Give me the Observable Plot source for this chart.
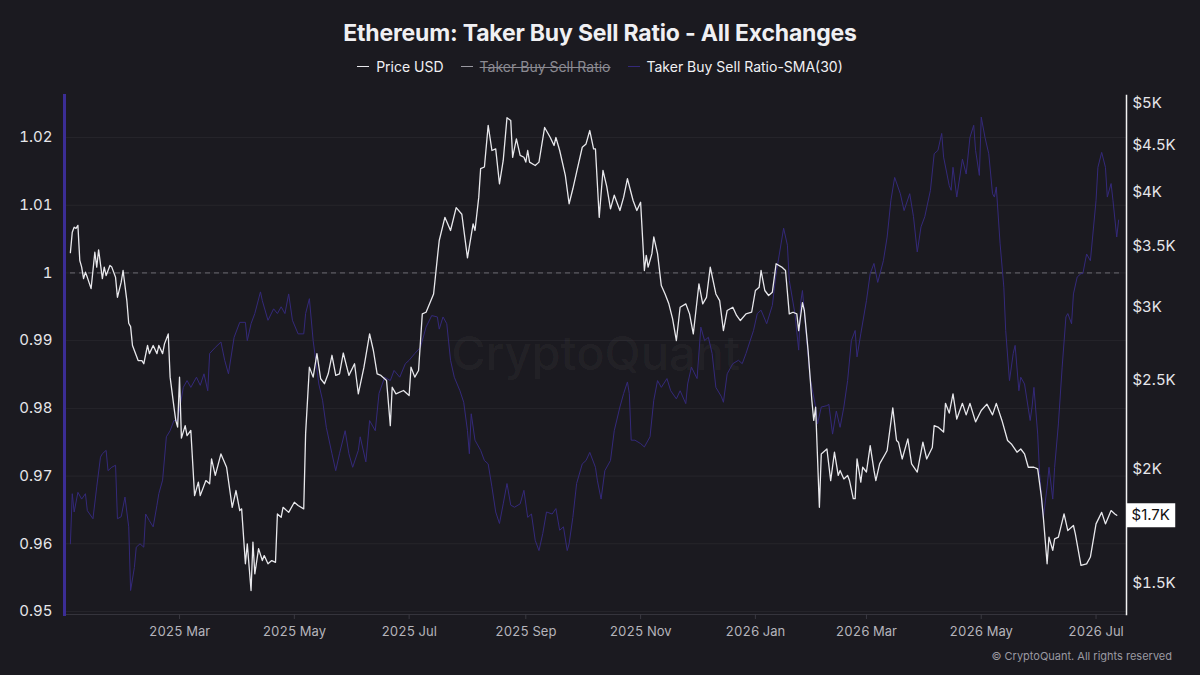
<!DOCTYPE html>
<html>
<head>
<meta charset="utf-8">
<script src="https://cdn.jsdelivr.net/npm/d3@7"></script>
<script src="https://cdn.jsdelivr.net/npm/@observablehq/plot@0.6"></script>
<style>
  html, body { margin: 0; padding: 0; background: #1b1a20; }
  body { width: 1200px; height: 675px; overflow: hidden; font-family: Inter, "Noto Sans", sans-serif; color: #f0f0f3; }
  #title { height: 47px; display: flex; align-items: flex-end; justify-content: center; font-size: 23px; font-weight: 700; letter-spacing: -0.2px; }
  #legend { height: 41px; display: flex; align-items: center; justify-content: center; gap: 17px; font-size: 14px; padding-bottom: 3px; box-sizing: border-box; }
  .item { display: flex; align-items: center; gap: 7px; }
  .sw { width: 12px; height: 0; border-top: 1.5px solid; }
  .off { color: #8b8a92; text-decoration: line-through; }
  #chart { height: 560px; }
  #footer { height: 27px; text-align: right; padding-right: 28px; font-size: 11px; color: #9a99a1; line-height: 16px; }
</style>
</head>
<body>
<div id="title"></div>
<div id="legend"></div>
<div id="chart"></div>
<div id="footer"></div>
<script>
// ---- Data ----
const titleText = "Ethereum: Taker Buy Sell Ratio - All Exchanges";
const seriesNames = ["Price USD", "Taker Buy Sell Ratio", "Taker Buy Sell Ratio-SMA(30)"];
const footerText = "© CryptoQuant. All rights reserved";
const watermark = "CryptoQuant";

const ratioTicks = [0.95, 0.96, 0.97, 0.98, 0.99, 1, 1.01, 1.02];
const priceTicks = [1500, 2000, 2500, 3000, 3500, 4000, 4500, 5000];
const xTicks = ["2025-03-01","2025-05-01","2025-07-01","2025-09-01","2025-11-01","2026-01-01","2026-03-01","2026-05-01","2026-07-01"];
const referenceRatio = 1;

// Price USD (right log axis)
const priceSeries = [
["2025-01-02",3440],["2025-01-03",3620],["2025-01-04",3666],["2025-01-05",3655],["2025-01-06",3683],["2025-01-07",3372],["2025-01-08",3317],["2025-01-09",3223],["2025-01-10",3275],["2025-01-11",3233],["2025-01-13",3143],["2025-01-15",3443],["2025-01-16",3317],["2025-01-17",3464],["2025-01-19",3223],["2025-01-20",3317],["2025-01-21",3247],["2025-01-23",3331],["2025-01-24",3317],["2025-01-26",3233],["2025-01-27",3075],["2025-01-29",3194],["2025-01-30",3289],
["2025-02-01",3050],["2025-02-02",2881],["2025-02-03",2857],["2025-02-04",2725],["2025-02-07",2624],["2025-02-09",2624],["2025-02-10",2603],["2025-02-12",2725],["2025-02-13",2670],["2025-02-15",2725],["2025-02-17",2670],["2025-02-18",2725],["2025-02-20",2670],["2025-02-21",2736],["2025-02-23",2805],["2025-02-24",2517],["2025-02-26",2338],["2025-02-27",2258],["2025-02-28",2221],
["2025-03-01",2517],["2025-03-02",2160],["2025-03-04",2229],["2025-03-05",2174],["2025-03-07",2202],["2025-03-09",1870],["2025-03-11",1934],["2025-03-12",1870],["2025-03-15",1942],["2025-03-17",1926],["2025-03-18",2050],["2025-03-20",1967],["2025-03-23",2076],["2025-03-26",2008],["2025-03-29",1816],["2025-03-31",1894],
["2025-04-02",1801],["2025-04-03",1809],["2025-04-05",1576],["2025-04-06",1657],["2025-04-08",1474],["2025-04-09",1664],["2025-04-10",1537],["2025-04-12",1637],["2025-04-14",1589],["2025-04-15",1609],["2025-04-17",1576],["2025-04-19",1589],["2025-04-21",1582],["2025-04-22",1786],["2025-04-24",1771],["2025-04-25",1816],["2025-04-28",1793],
["2025-05-01",1839],["2025-05-03",1824],["2025-05-06",1809],["2025-05-07",2186],["2025-05-09",2581],["2025-05-11",2517],["2025-05-13",2670],["2025-05-15",2507],["2025-05-17",2476],["2025-05-19",2538],["2025-05-21",2659],["2025-05-23",2528],["2025-05-25",2538],["2025-05-27",2674],["2025-05-30",2528],
["2025-06-02",2603],["2025-06-04",2414],["2025-06-07",2581],["2025-06-10",2805],["2025-06-12",2691],["2025-06-14",2538],["2025-06-16",2528],["2025-06-19",2496],["2025-06-21",2229],["2025-06-22",2454],["2025-06-24",2414],["2025-06-28",2434],
["2025-07-01",2404],["2025-07-02",2581],["2025-07-04",2517],["2025-07-06",2559],["2025-07-08",2950],["2025-07-10",2962],["2025-07-14",3101],["2025-07-16",3395],["2025-07-17",3546],["2025-07-20",3758],["2025-07-23",3636],["2025-07-26",3851],["2025-07-29",3787],
["2025-08-01",3395],["2025-08-04",3697],["2025-08-05",3636],["2025-08-07",3953],["2025-08-08",4246],["2025-08-10",4264],["2025-08-12",4733],["2025-08-14",4444],["2025-08-16",4462],["2025-08-18",4088],["2025-08-20",4334],["2025-08-22",4824],["2025-08-24",4791],["2025-08-25",4369],["2025-08-27",4576],["2025-08-29",4390],["2025-08-31",4369],
["2025-09-01",4316],["2025-09-02",4444],["2025-09-03",4316],["2025-09-06",4280],["2025-09-08",4316],["2025-09-11",4708],["2025-09-14",4591],["2025-09-16",4500],["2025-09-17",4591],["2025-09-19",4444],["2025-09-22",4175],["2025-09-24",3888],["2025-09-26",4037],["2025-09-28",4210],
["2025-10-01",4480],["2025-10-03",4518],["2025-10-05",4672],["2025-10-07",4462],["2025-10-08",4462],["2025-10-10",3758],["2025-10-12",4227],["2025-10-14",4061],["2025-10-16",3839],["2025-10-18",3973],["2025-10-21",3823],["2025-10-23",3953],["2025-10-25",4140],["2025-10-28",3920],["2025-10-30",3823],
["2025-11-01",3903],["2025-11-03",3289],["2025-11-04",3416],["2025-11-05",3317],["2025-11-07",3431],["2025-11-08",3577],["2025-11-10",3431],["2025-11-12",3167],["2025-11-14",3101],["2025-11-16",3025],["2025-11-18",2913],["2025-11-20",2759],["2025-11-22",2999],["2025-11-25",3025],["2025-11-27",2950],["2025-11-29",2805],
["2025-12-02",3181],["2025-12-04",3025],["2025-12-06",3075],["2025-12-08",3317],["2025-12-11",3101],["2025-12-13",3050],["2025-12-15",2829],["2025-12-17",2975],["2025-12-20",2999],["2025-12-22",2938],["2025-12-24",2901],["2025-12-27",2950],["2025-12-30",2962],
["2026-01-01",3128],["2026-01-03",3154],["2026-01-04",3289],["2026-01-06",3128],["2026-01-08",3089],["2026-01-10",3115],["2026-01-12",3345],["2026-01-15",3317],["2026-01-17",3289],["2026-01-19",2950],["2026-01-21",2962],["2026-01-23",2950],["2026-01-24",2829],["2026-01-26",3035],["2026-01-27",2975],["2026-01-29",2691],["2026-01-31",2374],
["2026-02-01",2258],["2026-02-02",2334],["2026-02-04",1816],["2026-02-05",2076],["2026-02-08",2102],["2026-02-10",1942],["2026-02-12",2085],["2026-02-14",1967],["2026-02-15",1992],["2026-02-17",1950],["2026-02-19",1967],["2026-02-20",1942],["2026-02-22",1856],["2026-02-23",1856],["2026-02-24",2050],["2026-02-26",1934],["2026-02-27",2008],
["2026-03-01",1984],["2026-03-03",2120],["2026-03-05",1992],["2026-03-06",1942],["2026-03-08",2025],["2026-03-11",2076],["2026-03-12",2094],["2026-03-15",2330],["2026-03-17",2147],["2026-03-18",2138],["2026-03-20",2050],["2026-03-23",2156],["2026-03-25",2025],["2026-03-28",1984],["2026-03-31",2138],
["2026-04-02",2050],["2026-04-05",2110],["2026-04-06",2229],["2026-04-08",2221],["2026-04-11",2193],["2026-04-12",2357],["2026-04-14",2300],["2026-04-16",2414],["2026-04-18",2266],["2026-04-21",2357],["2026-04-23",2290],["2026-04-25",2357],["2026-04-28",2250],
["2026-05-01",2315],["2026-05-04",2352],["2026-05-07",2290],["2026-05-09",2357],["2026-05-12",2258],["2026-05-15",2147],["2026-05-17",2129],["2026-05-20",2085],["2026-05-22",2102],["2026-05-24",2076],["2026-05-26",2008],["2026-05-29",2008],["2026-05-31",2000],
["2026-06-02",1861],["2026-06-03",1771],["2026-06-05",1576],["2026-06-06",1685],["2026-06-08",1630],["2026-06-09",1678],["2026-06-11",1685],["2026-06-14",1786],["2026-06-16",1713],["2026-06-19",1735],["2026-06-20",1699],["2026-06-23",1570],["2026-06-26",1576],["2026-06-28",1603],
["2026-07-01",1742],["2026-07-04",1793],["2026-07-06",1742],["2026-07-09",1801],["2026-07-11",1786],["2026-07-12",1780]
];

// Taker Buy Sell Ratio - SMA(30) (left axis)
const smaSeries = [
["2025-01-02",0.9600],["2025-01-03",0.9674],["2025-01-04",0.9647],["2025-01-06",0.9676],["2025-01-08",0.9666],["2025-01-10",0.9674],["2025-01-11",0.9649],["2025-01-14",0.9637],["2025-01-16",0.9684],["2025-01-18",0.9728],["2025-01-19",0.9733],["2025-01-21",0.9738],["2025-01-22",0.9708],["2025-01-24",0.9713],["2025-01-26",0.9716],["2025-01-27",0.9637],["2025-01-29",0.9640],["2025-01-31",0.9669],
["2025-02-02",0.9625],["2025-02-03",0.9531],["2025-02-05",0.9565],["2025-02-06",0.9595],["2025-02-08",0.9600],["2025-02-10",0.9595],["2025-02-11",0.9644],["2025-02-13",0.9634],["2025-02-15",0.9625],["2025-02-17",0.9657],["2025-02-18",0.9674],["2025-02-20",0.9694],["2025-02-22",0.9758],["2025-02-24",0.9767],["2025-02-26",0.9782],["2025-02-28",0.9782],
["2025-03-03",0.9831],["2025-03-05",0.9841],["2025-03-07",0.9831],["2025-03-10",0.9846],["2025-03-12",0.9834],["2025-03-14",0.9851],["2025-03-16",0.9826],["2025-03-17",0.9881],["2025-03-20",0.9890],["2025-03-23",0.9898],["2025-03-25",0.9871],["2025-03-27",0.9851],["2025-03-30",0.9905],
["2025-04-02",0.9927],["2025-04-05",0.9927],["2025-04-06",0.9900],["2025-04-08",0.9925],["2025-04-10",0.9940],["2025-04-13",0.9972],["2025-04-14",0.9959],["2025-04-17",0.9930],["2025-04-20",0.9947],["2025-04-22",0.9940],["2025-04-24",0.9950],["2025-04-26",0.9940],["2025-04-28",0.9969],["2025-04-30",0.9930],
["2025-05-03",0.9910],["2025-05-06",0.9910],["2025-05-07",0.9940],["2025-05-09",0.9962],["2025-05-11",0.9900],["2025-05-14",0.9836],["2025-05-16",0.9812],["2025-05-18",0.9772],["2025-05-21",0.9733],["2025-05-23",0.9708],["2025-05-25",0.9733],["2025-05-28",0.9767],["2025-05-30",0.9733],
["2025-06-01",0.9713],["2025-06-04",0.9738],["2025-06-05",0.9758],["2025-06-08",0.9721],["2025-06-10",0.9782],["2025-06-13",0.9767],["2025-06-15",0.9822],["2025-06-18",0.9846],["2025-06-21",0.9841],["2025-06-23",0.9856],["2025-06-26",0.9846],["2025-06-29",0.9866],
["2025-07-01",0.9871],["2025-07-04",0.9881],["2025-07-07",0.9890],["2025-07-10",0.9920],["2025-07-13",0.9937],["2025-07-16",0.9935],["2025-07-17",0.9917],["2025-07-19",0.9935],["2025-07-21",0.9925],["2025-07-23",0.9871],["2025-07-25",0.9846],["2025-07-28",0.9826],["2025-07-30",0.9809],
["2025-08-01",0.9767],["2025-08-02",0.9733],["2025-08-03",0.9792],["2025-08-05",0.9753],["2025-08-08",0.9738],["2025-08-10",0.9723],["2025-08-12",0.9718],["2025-08-14",0.9684],["2025-08-16",0.9647],["2025-08-18",0.9630],["2025-08-20",0.9659],["2025-08-22",0.9689],["2025-08-24",0.9657],["2025-08-26",0.9654],["2025-08-29",0.9659],["2025-08-31",0.9679],
["2025-09-02",0.9639],["2025-09-04",0.9644],["2025-09-06",0.9605],["2025-09-08",0.9590],["2025-09-10",0.9615],["2025-09-12",0.9647],["2025-09-15",0.9644],["2025-09-17",0.9652],["2025-09-19",0.9620],["2025-09-21",0.9625],["2025-09-23",0.9590],["2025-09-24",0.9600],["2025-09-26",0.9639],["2025-09-28",0.9689],
["2025-10-01",0.9718],["2025-10-03",0.9723],["2025-10-05",0.9735],["2025-10-08",0.9713],["2025-10-09",0.9694],["2025-10-11",0.9666],["2025-10-13",0.9708],["2025-10-16",0.9723],["2025-10-18",0.9767],["2025-10-21",0.9802],["2025-10-23",0.9822],["2025-10-25",0.9839],["2025-10-26",0.9822],["2025-10-27",0.9753],["2025-10-29",0.9753],
["2025-11-01",0.9748],["2025-11-03",0.9743],["2025-11-06",0.9758],["2025-11-08",0.9812],["2025-11-10",0.9841],["2025-11-12",0.9831],["2025-11-15",0.9844],["2025-11-17",0.9826],["2025-11-20",0.9814],["2025-11-22",0.9826],["2025-11-25",0.9807],["2025-11-26",0.9836],["2025-11-28",0.9861],
["2025-12-01",0.9844],["2025-12-03",0.9920],["2025-12-05",0.9900],["2025-12-07",0.9905],["2025-12-09",0.9881],["2025-12-11",0.9831],["2025-12-14",0.9817],["2025-12-15",0.9809],["2025-12-17",0.9851],["2025-12-20",0.9866],["2025-12-23",0.9871],["2025-12-25",0.9866],["2025-12-27",0.9881],["2025-12-31",0.9915],
["2026-01-02",0.9940],["2026-01-04",0.9945],["2026-01-07",0.9925],["2026-01-10",0.9952],["2026-01-12",0.9999],["2026-01-16",1.0066],["2026-01-18",1.0041],["2026-01-19",0.9989],["2026-01-22",0.9940],["2026-01-24",0.9886],["2026-01-25",0.9955],["2026-01-26",0.9974],["2026-01-28",0.9910],["2026-01-30",0.9846],
["2026-02-02",0.9802],["2026-02-03",0.9777],["2026-02-05",0.9802],["2026-02-08",0.9804],["2026-02-09",0.9806],["2026-02-11",0.9762],["2026-02-13",0.9796],["2026-02-15",0.9772],["2026-02-17",0.9802],["2026-02-19",0.9841],["2026-02-21",0.9900],["2026-02-23",0.9915],["2026-02-24",0.9876],["2026-02-26",0.9910],
["2026-03-01",0.9959],["2026-03-03",0.9999],["2026-03-05",1.0014],["2026-03-07",0.9986],["2026-03-10",1.0018],["2026-03-12",1.0053],["2026-03-14",1.0107],["2026-03-16",1.0141],["2026-03-19",1.0117],["2026-03-21",1.0092],["2026-03-24",1.0117],["2026-03-26",1.0083],["2026-03-28",1.0031],["2026-03-30",1.0068],
["2026-04-01",1.0083],["2026-04-04",1.0122],["2026-04-06",1.0176],["2026-04-08",1.0181],["2026-04-10",1.0206],["2026-04-11",1.0171],["2026-04-14",1.0129],["2026-04-15",1.0122],["2026-04-16",1.0156],["2026-04-18",1.0112],["2026-04-21",1.0168],["2026-04-23",1.0146],["2026-04-25",1.0200],["2026-04-27",1.0218],["2026-04-28",1.0181],["2026-04-30",1.0144],
["2026-05-01",1.0230],["2026-05-03",1.0200],["2026-05-05",1.0176],["2026-05-07",1.0117],["2026-05-08",1.0112],["2026-05-09",1.0127],["2026-05-11",1.0044],["2026-05-13",0.9979],["2026-05-14",0.9915],["2026-05-16",0.9841],["2026-05-18",0.9881],["2026-05-19",0.9893],["2026-05-21",0.9826],["2026-05-22",0.9846],["2026-05-24",0.9836],["2026-05-27",0.9782],["2026-05-28",0.9802],["2026-05-29",0.9831],["2026-05-31",0.9762],
["2026-06-01",0.9704],["2026-06-03",0.9639],["2026-06-05",0.9684],["2026-06-06",0.9713],["2026-06-08",0.9666],["2026-06-09",0.9713],["2026-06-11",0.9777],["2026-06-13",0.9861],["2026-06-15",0.9935],["2026-06-16",0.9940],["2026-06-18",0.9925],["2026-06-19",0.9969],["2026-06-21",0.9994],["2026-06-23",0.9999],["2026-06-24",0.9999],["2026-06-26",1.0028],["2026-06-28",1.0018],
["2026-07-01",1.0107],["2026-07-02",1.0156],["2026-07-04",1.0178],["2026-07-06",1.0156],["2026-07-07",1.0112],["2026-07-09",1.0132],["2026-07-10",1.0107],["2026-07-12",1.0053],["2026-07-13",1.0078]
];

// ---- Colours ----
const priceColor = "#e8e8ec";
const smaColor = "#34297a";
const leftAxisColor = "#3b2d95";

// ---- Header ----
document.getElementById("title").textContent = titleText;
const legend = document.getElementById("legend");
const legendItems = [
  {name: seriesNames[0], color: priceColor, off: false},
  {name: seriesNames[1], color: "#9a99a1", off: true},
  {name: seriesNames[2], color: smaColor, off: false}
];
for (const it of legendItems) {
  const el = document.createElement("div");
  el.className = "item";
  const sw = document.createElement("span");
  sw.className = "sw";
  sw.style.borderColor = it.color;
  const tx = document.createElement("span");
  tx.textContent = it.name;
  if (it.off) tx.className = "off";
  el.append(sw, tx);
  legend.append(el);
}
document.getElementById("footer").textContent = footerText;

// ---- Scales: price (log) mapped onto the ratio axis ----
const priceToRatio = d3.scaleLog().domain([1500, 5000]).range([0.954135, 1.025021]);
const parse = d3.utcParse("%Y-%m-%d");
const price = priceSeries.map(([d, v]) => ({date: parse(d), value: v, y: priceToRatio(v)}));
const sma = smaSeries.map(([d, v]) => ({date: parse(d), value: v}));
const last = price[price.length - 1];

const boxSymbol = {draw(ctx) { ctx.rect(-24.5, -12, 49, 24); }};

const chart = Plot.plot({
  width: 1200,
  height: 560,
  marginLeft: 64,
  marginRight: 74,
  marginTop: 7,
  marginBottom: 34,
  style: {background: "transparent", color: "#d8d8dc", fontFamily: "Inter, 'Noto Sans', sans-serif"},
  x: {type: "utc", domain: [parse("2025-01-01"), parse("2026-07-14")], insetLeft: 4, insetRight: 6},
  y: {domain: [0.94956, 1.0262]},
  marks: [
    Plot.gridY(ratioTicks, {stroke: "#ffffff", strokeOpacity: 0.05}),
    Plot.text([watermark], {frameAnchor: "middle", fontSize: 47, fontWeight: 500, fill: "#ffffff", fillOpacity: 0.045}),
    Plot.ruleY([referenceRatio], {stroke: "#6c6b72", strokeDasharray: "5,4", strokeWidth: 1, insetLeft: 6, insetRight: 6}),
    Plot.frame({anchor: "bottom", stroke: "#35343c"}),
    Plot.line(sma, {x: "date", y: "value", stroke: smaColor, strokeWidth: 1}),
    Plot.line(price, {x: "date", y: "y", stroke: priceColor, strokeWidth: 1.3}),
    Plot.frame({anchor: "left", stroke: leftAxisColor, strokeWidth: 3}),
    Plot.frame({anchor: "right", stroke: "#f2f2f2", strokeWidth: 1.5}),
    Plot.axisY(ratioTicks, {anchor: "left", tickSize: 0, tickPadding: 12, fontSize: 15, fill: "#e6e6ea", tickFormat: d => String(+d.toFixed(2))}),
    Plot.axisY(priceTicks.map(p => priceToRatio(p)), {anchor: "right", tickSize: 0, tickPadding: 6, fontSize: 15, fill: "#e6e6ea",
      tickFormat: v => "$" + (Math.round(priceToRatio.invert(v) / 100) / 10) + "K"}),
    Plot.axisX(xTicks.map(parse), {anchor: "bottom", tickSize: 5, tickPadding: 7, stroke: "#3a3941", fill: "#b5b4bb", fontSize: 13, tickFormat: d3.utcFormat("%Y %b")}),
    Plot.dot([last], {x: "date", y: "y", symbol: boxSymbol, fill: "#ffffff", stroke: "none", dx: 34, r: 5}),
    Plot.text([last], {x: "date", y: "y", text: d => "$" + (Math.floor(d.value / 100) / 10) + "K", dx: 34, fill: "#111111", fontSize: 15})
  ]
});
document.getElementById("chart").append(chart);
</script>
</body>
</html>
